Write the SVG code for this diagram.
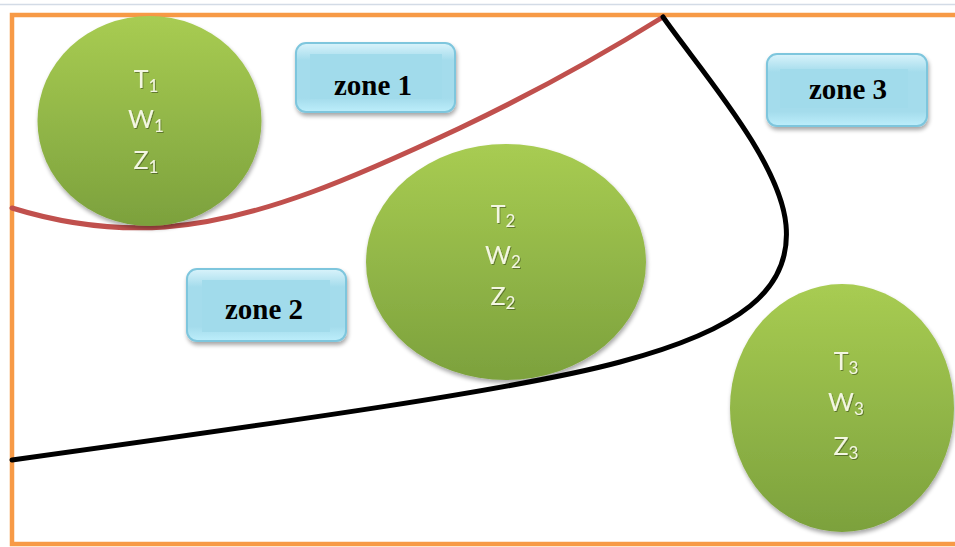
<svg xmlns="http://www.w3.org/2000/svg" width="955" height="547" viewBox="0 0 955 547">
  <defs>
    <linearGradient id="green" x1="0" y1="0" x2="0" y2="1">
      <stop offset="0" stop-color="#a8cc52"/>
      <stop offset="1" stop-color="#7ca13d"/>
    </linearGradient>
    <linearGradient id="cyan" x1="0" y1="0" x2="0" y2="1">
      <stop offset="0" stop-color="#d9f3fb"/>
      <stop offset="0.25" stop-color="#a4dcec"/>
      <stop offset="0.8" stop-color="#a4dcec"/>
      <stop offset="1" stop-color="#bdeefb"/>
    </linearGradient>
    <filter id="shadow" x="-10%" y="-10%" width="120%" height="130%">
      <feGaussianBlur in="SourceAlpha" stdDeviation="2"/>
      <feOffset dx="1" dy="3" result="b"/>
      <feComponentTransfer><feFuncA type="linear" slope="0.35"/></feComponentTransfer>
      <feMerge><feMergeNode/><feMergeNode in="SourceGraphic"/></feMerge>
    </filter>
    <filter id="glow" x="-20%" y="-20%" width="140%" height="140%">
      <feGaussianBlur in="SourceAlpha" stdDeviation="0.6"/>
      <feOffset dx="0.5" dy="0.8"/>
      <feComponentTransfer><feFuncA type="linear" slope="0.35"/></feComponentTransfer>
      <feMerge><feMergeNode/><feMergeNode in="SourceGraphic"/></feMerge>
    </filter>
  </defs>
  <style>
    .node { fill: url(#green); filter: url(#shadow); }
    .lbl { font-family: Lato, "Open Sans", sans-serif; font-size: 25px; fill: #f3f6e2; text-anchor: middle; filter: url(#glow); }
    .sub { font-size: 17px; }
    .zone { fill: url(#cyan); stroke: #7ec6dd; stroke-width: 2; filter: url(#shadow); }
    .inner { fill: #a1dbeb; }
    .ztxt { font-family: "Liberation Serif", "Times New Roman", serif; font-weight: bold; font-size: 29px; fill: #000; text-anchor: middle; }
    .edge { fill: none; stroke-width: 5; stroke-linecap: round; }
  </style>

  <rect width="955" height="547" fill="#ffffff"/>
  <!-- thin rule along the top -->
  <line x1="0" y1="4.5" x2="955" y2="4.5" stroke="#d3dbe6" stroke-width="1.5"/>
  <!-- frame -->
  <rect x="12" y="15" width="950" height="529" fill="none" stroke="#f79a46" stroke-width="4.5"/>

  <g id="edges">
    <path id="boundary-1" class="edge" stroke="#c0504d" d="M12,208 C70,226 120,230 165,227 C260,220 360,175 460,128 C540,90 610,50 663,17"/>
  </g>

  <g id="node-1">
    <ellipse class="node" cx="149.5" cy="121" rx="112" ry="105"/>
    <text class="lbl" x="146" y="88">T<tspan class="sub" dy="4">1</tspan></text>
    <text class="lbl" x="146" y="128">W<tspan class="sub" dy="4">1</tspan></text>
    <text class="lbl" x="146" y="169">Z<tspan class="sub" dy="4">1</tspan></text>
  </g>

  <g id="node-2">
    <ellipse class="node" cx="506" cy="262" rx="140" ry="118"/>
    <text class="lbl" x="503" y="223">T<tspan class="sub" dy="4">2</tspan></text>
    <text class="lbl" x="503" y="264">W<tspan class="sub" dy="4">2</tspan></text>
    <text class="lbl" x="503" y="305">Z<tspan class="sub" dy="4">2</tspan></text>
  </g>

  <g id="node-3">
    <ellipse class="node" cx="842" cy="408" rx="112" ry="124"/>
    <text class="lbl" x="846" y="370">T<tspan class="sub" dy="4">3</tspan></text>
    <text class="lbl" x="846" y="411">W<tspan class="sub" dy="4">3</tspan></text>
    <text class="lbl" x="846" y="455">Z<tspan class="sub" dy="4">3</tspan></text>
  </g>

  <g id="edges-2">
    <path id="boundary-2" class="edge" stroke="#000000" d="M663,17 C700,70 780,160 786,225 C792,290 740,330 620,362 C520,389 300,420 12,460"/>
  </g>

  <g id="zone-1">
    <rect class="zone" x="296" y="43" width="159" height="69" rx="10"/>
    <rect class="inner" x="310" y="54" width="132" height="45"/>
    <text class="ztxt" x="373" y="95">zone 1</text>
  </g>

  <g id="zone-2">
    <rect class="zone" x="187" y="269" width="159" height="72" rx="10"/>
    <rect class="inner" x="202" y="280" width="128" height="52"/>
    <text class="ztxt" x="264" y="319">zone 2</text>
  </g>

  <g id="zone-3">
    <rect class="zone" x="767" y="54" width="160" height="72" rx="10"/>
    <rect class="inner" x="780" y="69" width="128" height="39"/>
    <text class="ztxt" x="848" y="99">zone 3</text>
  </g>
</svg>
